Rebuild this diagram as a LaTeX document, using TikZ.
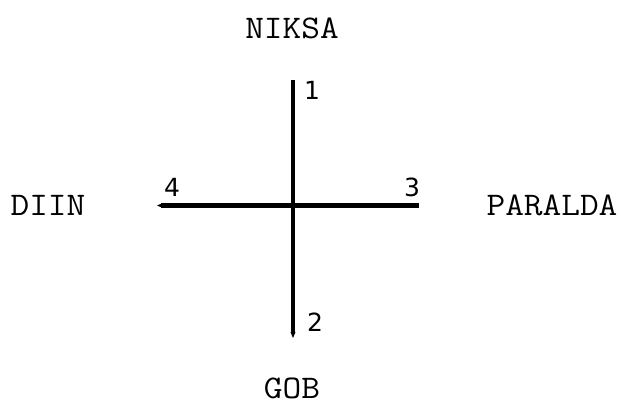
\documentclass[tikz,border=0pt]{standalone}
\usepackage{fontspec}
\newfontfamily\numfont{DejaVu Sans}
\usetikzlibrary{arrows.meta}
\begin{document}
\begin{tikzpicture}[x=1pt,y=1pt,
  dirlabel/.style={font=\ttfamily\fontsize{33}{33}\selectfont, inner sep=0pt, anchor=center, xscale=1.1, transform shape},
  numlabel/.style={font=\numfont\fontsize{25}{25}\selectfont, inner sep=0pt, anchor=center},
  axisline/.style={line width=4.5pt, -{Stealth[length=6pt,width=5pt]}}]
\useasboundingbox (0,0) rectangle (621,404);
% end points (y = 404 - pixel row)
\coordinate (c1) at (293,324);
\coordinate (c2) at (293,66);
\coordinate (c3) at (419,198.5);
\coordinate (c4) at (157,198.5);
\draw[axisline] (c1) -- (c2);
\draw[axisline] (c3) -- (c4);
% numbers
\node[numlabel] (n1) at (312,314) {1};
\node[numlabel] (n2) at (315,82) {2};
\node[numlabel] (n3) at (412,217) {3};
\node[numlabel] (n4) at (172,217) {4};
% direction names
\node[dirlabel] (niksa) at (292,376) {NIKSA};
\node[dirlabel] (gob) at (292,16) {GOB};
\node[dirlabel] (diin) at (48,199) {DIIN};
\node[dirlabel] (paralda) at (552,199) {PARALDA};
\end{tikzpicture}
\end{document}
